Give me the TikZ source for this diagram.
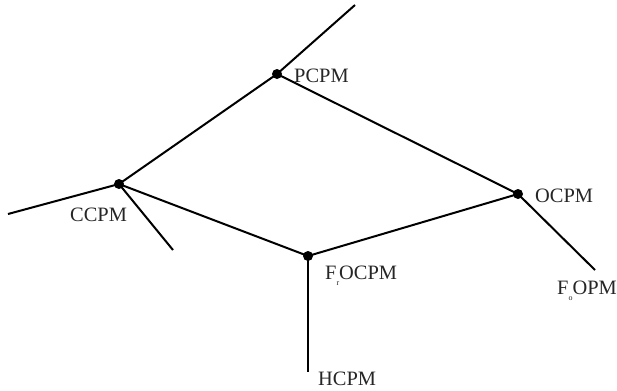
\documentclass[tikz,border=0pt]{standalone}
\usepackage{fontspec}
\setmainfont{Liberation Serif}
\begin{document}
\begin{tikzpicture}[x=1bp,y=-1bp,
  edge/.style={line width=2bp,black},
  dotnode/.style={circle,fill=black,inner sep=0pt,minimum size=10bp},
  lbl/.style={font=\fontsize{20.5}{22}\selectfont,inner sep=0pt,anchor=west,text=black!85}]
\useasboundingbox (0,0) rectangle (617,390);
\node[dotnode] (P) at (277,74) {};
\node[dotnode] (C) at (119,184) {};
\node[dotnode] (O) at (518,194) {};
\node[dotnode] (F) at (308,256) {};
\coordinate (Pe) at (355,5);
\coordinate (Ce1) at (8,214);
\coordinate (Ce2) at (173,250);
\coordinate (Oe) at (595,270);
\coordinate (Fe) at (308,372);
\draw[edge] (P.center) -- (Pe);
\draw[edge] (C.center) -- (Ce1);
\draw[edge] (C.center) -- (Ce2);
\draw[edge] (O.center) -- (Oe);
\draw[edge] (F.center) -- (Fe);
\draw[edge] (P.center) -- (C.center);
\draw[edge] (P.center) -- (O.center);
\draw[edge] (C.center) -- (F.center);
\draw[edge] (F.center) -- (O.center);
\node[lbl] (Pl) at (294,76) {PCPM};
\node[lbl] (Ol) at (535,196) {OCPM};
\node[lbl] (Cl) at (70,215) {CCPM};
\node[lbl] (Fl) at (325,276) {F\raisebox{-0.6ex}{\fontsize{8}{9}\selectfont r}OCPM};
\node[lbl] (FOl) at (557,291) {F\raisebox{-0.6ex}{\fontsize{8}{9}\selectfont o}OPM};
\node[lbl] (Hl) at (318,379) {HCPM};
\end{tikzpicture}
\end{document}
